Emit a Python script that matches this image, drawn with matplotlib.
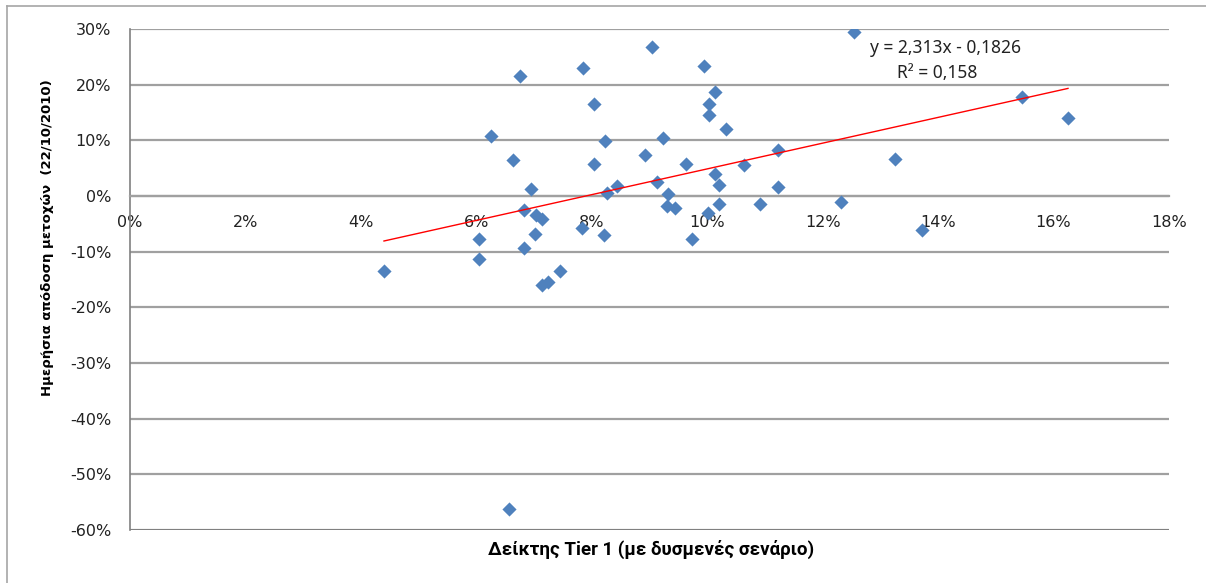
import matplotlib.pyplot as plt
from matplotlib.lines import Line2D
from matplotlib.ticker import PercentFormatter
import numpy as np

plt.rcParams['axes.unicode_minus'] = False

# Tier 1 ratio (adverse scenario), %
tier1 = [4.40, 6.25, 6.05, 6.05, 6.63, 6.75, 6.95, 6.83, 7.04, 7.13,
         7.02, 6.83, 7.13, 7.24, 7.45, 7.84, 7.83, 8.04, 8.04, 8.23,
         8.21, 8.26, 8.43, 8.93, 9.04, 9.24, 9.13, 9.32, 9.31, 9.44,
         9.63, 9.73, 9.94, 10.14, 10.03, 10.03, 10.33, 10.13, 10.21, 10.21,
         10.01, 10.63, 10.91, 11.23, 11.23, 12.32, 12.55, 13.25, 13.72, 15.45,
         16.25, 6.56]
# daily stock return (22/10/2010), %
daily_ret = [-13.4, 10.8, -7.8, -11.3, 6.4, 21.5, 1.2, -2.6, -3.4, -4.2,
             -6.9, -9.3, -15.9, -15.4, -13.4, 23.0, -5.8, 16.6, 5.8, 9.9,
             -7.0, 0.6, 1.8, 7.3, 26.8, 10.5, 2.6, 0.3, -1.8, -2.1,
             5.8, -7.8, 23.3, 18.7, 16.6, 14.6, 12.0, 4.0, 2.0, -1.4,
             -3.1, 5.5, -1.4, 8.3, 1.7, -1.1, 29.5, 6.7, -6.1, 17.8,
             14.0, -56.2]

# trendline as printed on the chart
slope = 2.313
intercept = -0.1826
r2_label = "R² = 0,158"
eq_label = "y = 2,313x - 0,1826"

x = np.array(tier1) / 100
y = np.array(daily_ret) / 100

fig = plt.figure(figsize=(12.06, 5.83), dpi=100)
ax = fig.add_axes([130 / 1206, 1 - 530 / 583, 1039 / 1206, 501 / 583])

ax.scatter(x, y, marker='D', s=52, color='#4F81BD', linewidths=0, zorder=3)

xl = np.array([x.min(), x.max()])
ax.plot(xl, slope * xl + intercept, color='#FF0000', linewidth=1, zorder=4)

ax.set_xlim(0, 0.18)
ax.set_ylim(-0.60, 0.30)
ax.set_xticks(np.round(np.linspace(0, 0.18, 10), 2))
ax.set_yticks(np.round(np.linspace(-0.60, 0.30, 10), 2))
ax.xaxis.set_major_formatter(PercentFormatter(1.0, decimals=0))
ax.yaxis.set_major_formatter(PercentFormatter(1.0, decimals=0))

ax.grid(axis='y', color='#A0A0A0', linewidth=1.6)
ax.set_axisbelow(True)

ax.spines['top'].set_visible(False)
ax.spines['right'].set_visible(False)
ax.spines['bottom'].set_position(('data', 0))
ax.spines['bottom'].set_color('#A0A0A0')
ax.spines['bottom'].set_linewidth(1.6)
ax.spines['left'].set_color('#808080')
ax.spines['left'].set_linewidth(1.2)

ax.tick_params(axis='x', length=0, pad=14, labelsize=11.5, labelcolor='#222222')
ax.tick_params(axis='y', length=0, pad=13.5, labelsize=11.5, labelcolor='#222222')

# bottom edge of the plot area
ax.axhline(-0.60, color='#808080', linewidth=1.4, zorder=2)

fig.text(651 / 1206, 1 - 549 / 583, "Δείκτης Tier 1 (με δυσμενές σενάριο)", ha='center',
         va='center', fontsize=13.5, fontweight='bold', family=['Roboto', 'DejaVu Sans'])
fig.text(47 / 1206, 1 - 238 / 583, "Ημερήσια απόδοση μετοχών  (22/10/2010)", rotation=90,
         ha='center', va='center', fontsize=9.5, fontweight='bold')

fig.text(945 / 1206, 1 - 48 / 583, eq_label, ha='center', va='center', fontsize=12.5,
         family=['Noto Sans', 'DejaVu Sans'], color='#222222')
fig.text(937 / 1206, 1 - 73 / 583, r2_label, ha='center', va='center', fontsize=12.5,
         family=['Noto Sans', 'DejaVu Sans'], color='#222222')

# outer chart frame (left and top edges visible)
fig.add_artist(Line2D([7 / 1206, 7 / 1206], [0, 1 - 6 / 583], color='#A6A6A6', linewidth=1.2))
fig.add_artist(Line2D([7 / 1206, 1], [1 - 6 / 583, 1 - 6 / 583], color='#A6A6A6', linewidth=1.2))

fig.savefig('out.png', dpi=100)
